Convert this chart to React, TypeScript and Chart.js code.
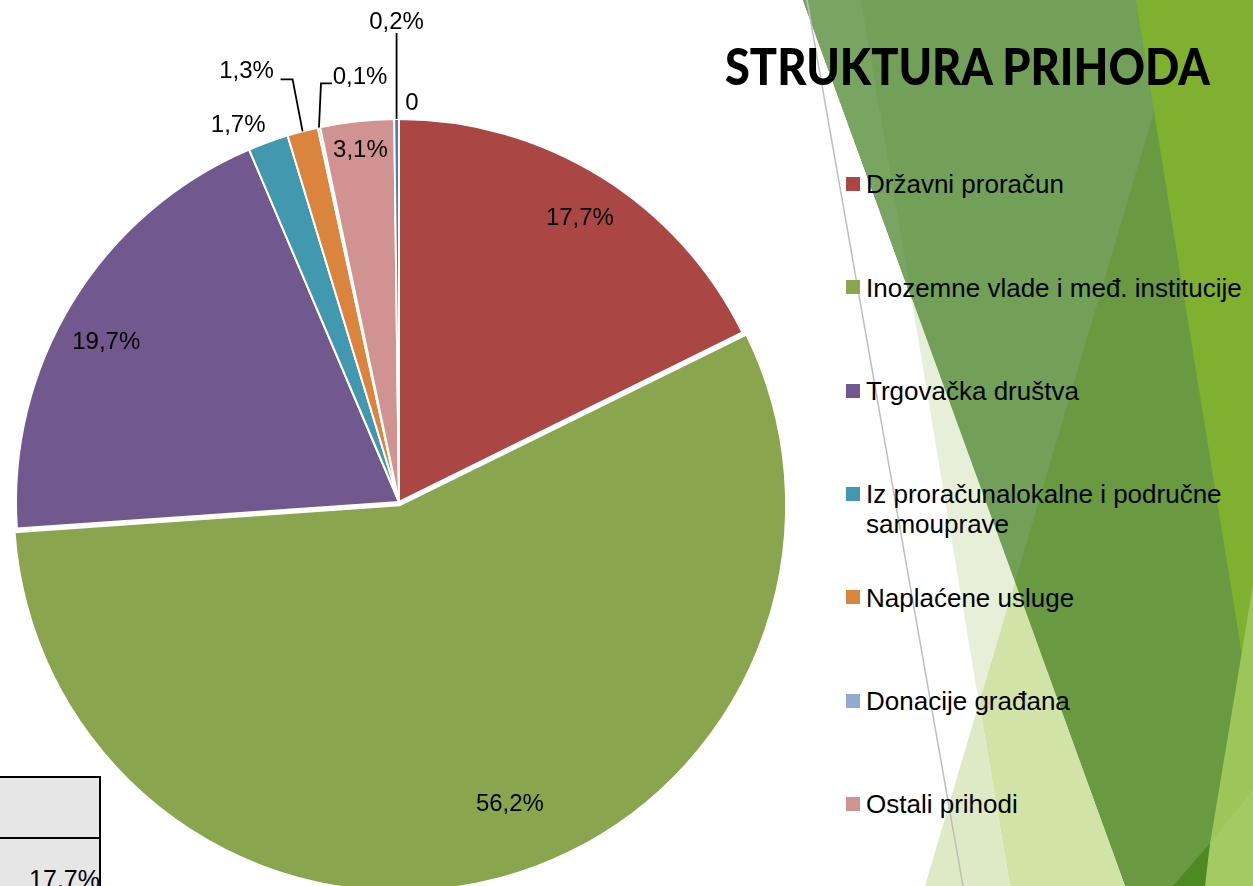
import React, { useEffect, useLayoutEffect, useRef } from "react";
import { Chart, registerables } from "chart.js";

Chart.register(...registerables);

// ---------- data ----------
const TITLE = "STRUKTURA PRIHODA";
const CATEGORIES = [
  "Državni proračun",
  "Inozemne vlade i međ. institucije",
  "Trgovačka društva",
  "Iz proračunalokalne i područne samouprave",
  "Naplaćene usluge",
  "Donacije građana",
  "Ostali prihodi",
  "Ostalo",
  "Nerazvrstano",
];
const SHARES = [17.7, 56.2, 19.7, 1.7, 1.3, 0.1, 3.1, 0.2, 0];
const COLORS = [
  "#AA4643",
  "#89A54E",
  "#71588F",
  "#4198AF",
  "#DB843D",
  "#93A9CF",
  "#D19392",
  "#4A7EBB",
  "#B9CD96",
];
const TABLE_VALUE = "17,7%";

// ---------- style / placement ----------
const EXPLODE = [0, 13, 0, 0, 0, 0, 0, 0, 0];
type Place = { inside: boolean; f?: number; dx: number; dy: number; leader?: [number, number][] };
const LABEL_PLACE: Place[] = [
  { inside: true, f: 0.88, dx: 3, dy: 2 },
  { inside: true, f: 0.85, dx: 26, dy: -13 },
  { inside: true, f: 0.875, dx: -7, dy: 14 },
  { inside: false, dx: -30, dy: -18 },
  { inside: false, dx: -56, dy: -61, leader: [[-10, -52], [-22, -52]] },
  { inside: false, dx: 41, dy: -51, leader: [[2, -44], [13, -44]] },
  { inside: true, f: 0.917, dx: 0, dy: -4 },
  { inside: false, dx: 0, dy: -98, leader: [[0, -86]] },
  { inside: false, dx: 13, dy: -17 },
];

const fmtShare = (v: number) => (v === 0 ? "0" : v.toFixed(1).replace(".", ",") + "%");

const sliceLabels = {
  id: "sliceLabels",
  afterDatasetsDraw(chart: any) {
    const ctx = chart.ctx as CanvasRenderingContext2D;
    const meta = chart.getDatasetMeta(0);
    ctx.save();
    ctx.font = "24px 'Liberation Sans', Arial, sans-serif";
    ctx.fillStyle = "#000";
    ctx.strokeStyle = "#000";
    ctx.lineWidth = 1.8;
    ctx.textAlign = "center";
    ctx.textBaseline = "middle";
    meta.data.forEach((el: any, i: number) => {
      const { x, y, startAngle, endAngle, outerRadius } = el.getProps(
        ["x", "y", "startAngle", "endAngle", "outerRadius"],
        true
      );
      const mid = (startAngle + endAngle) / 2;
      const p = LABEL_PLACE[i];
      let lx: number;
      let ly: number;
      if (p.inside) {
        lx = x + Math.cos(mid) * outerRadius * (p.f || 0.8) + p.dx;
        ly = y + Math.sin(mid) * outerRadius * (p.f || 0.8) + p.dy;
      } else {
        const ox = x + Math.cos(mid) * outerRadius;
        const oy = y + Math.sin(mid) * outerRadius;
        lx = ox + p.dx;
        ly = oy + p.dy;
        if (p.leader) {
          ctx.beginPath();
          ctx.moveTo(ox, oy);
          p.leader.forEach(([a, b]) => ctx.lineTo(ox + a, oy + b));
          ctx.stroke();
        }
      }
      ctx.fillText(fmtShare(SHARES[i]), lx, ly + 1);
    });
    ctx.restore();
  },
};

export default function App() {
  const canvasRef = useRef<HTMLCanvasElement>(null);
  const titleRef = useRef<HTMLSpanElement>(null);

  useLayoutEffect(() => {
    const t = titleRef.current;
    if (!t) return;
    t.style.transform = "none";
    const w = t.getBoundingClientRect().width;
    if (w > 0) t.style.transform = `scaleX(${485 / w})`;
  }, []);

  useEffect(() => {
    const chart = new Chart(canvasRef.current as HTMLCanvasElement, {
      type: "pie",
      data: {
        labels: CATEGORIES,
        datasets: [
          {
            data: SHARES,
            backgroundColor: COLORS,
            borderColor: "#ffffff",
            borderWidth: 2,
            offset: EXPLODE,
            radius: 383,
          } as any,
        ],
      },
      options: {
        responsive: false,
        animation: false,
        events: [],
        layout: { padding: 0 },
        plugins: {
          legend: { display: false },
          tooltip: { enabled: false },
          title: { display: false },
        },
      },
      plugins: [sliceLabels],
    });
    return () => chart.destroy();
  }, []);

  const legendItems = CATEGORIES.slice(0, 7);

  return (
    <div
      style={{
        position: "fixed",
        left: 0,
        top: 0,
        width: 1253,
        height: 886,
        overflow: "hidden",
        background: "#ffffff",
        fontFamily: "'Liberation Sans', Arial, sans-serif",
      }}
    >
      <svg
        width={1253}
        height={886}
        style={{ position: "absolute", left: 0, top: 0 }}
      >
        <polygon points="803,0 1253,0 1253,886 1125,886" fill="#699A42" />
        <polygon points="803,0 1187,0 1015,582" fill="#72A058" />
        <polygon points="803,0 861,0 911,296" fill="#79A563" />
        <polygon points="1136,0 1253,0 1253,723" fill="#80B030" />
        <polygon points="1253,585 1253,886 1203,886" fill="#9DC65A" />
        <polygon points="1253,790 1253,886 1205,886 1210,843" fill="#A4CA64" />
        <polygon points="1173,886 1210,843 1205,886" fill="#4E8A24" />
        <polygon points="911,296 1015,582 979,703" fill="#E7EFD8" />
        <polygon points="1015,582 979,703 1010,886 1125,886" fill="#D2E3A7" />
        <polygon points="979,703 925,886 1010,886" fill="#DEEAC6" />
        <line x1={807} y1={0} x2={963} y2={886} stroke="#BEBEBE" strokeWidth={1.5} />
      </svg>

      {/* background table fragment */}
      <div
        style={{
          position: "absolute",
          left: -5,
          top: 838,
          width: 104,
          height: 60,
          borderRight: "2px solid #000",
          background: "#E6E6E6",
        }}
      />
      <div
        style={{
          position: "absolute",
          left: -5,
          top: 776,
          width: 102,
          height: 59,
          border: "2px solid #000",
          background: "#E6E6E6",
        }}
      />
      <div
        style={{
          position: "absolute",
          left: 0,
          top: 864,
          width: 100,
          textAlign: "right",
          fontSize: 25,
          lineHeight: "30px",
          color: "#000",
        }}
      >
        {TABLE_VALUE}
      </div>

      <canvas
        ref={canvasRef}
        width={798}
        height={1004}
        style={{ position: "absolute", left: 0, top: 0, width: 798, height: 1004 }}
      />

      <div
        style={{
          position: "absolute",
          left: 725,
          top: 39,
          whiteSpace: "nowrap",
          fontFamily: "Lato, 'Open Sans', sans-serif",
          fontWeight: 900,
          fontSize: 52,
          lineHeight: "52px",
          color: "#000",
        }}
      >
        <span ref={titleRef} style={{ display: "inline-block", transformOrigin: "0 0" }}>
          {TITLE}
        </span>
      </div>

      {legendItems.map((name, i) => {
        const center = 184 + i * 103.3;
        return (
          <div key={name}>
            <div
              style={{
                position: "absolute",
                left: 846,
                top: center - 7,
                width: 14,
                height: 14,
                background: COLORS[i],
              }}
            />
            <div
              style={{
                position: "absolute",
                left: 866,
                top: center - 14.7,
                width: 387,
                fontSize: 26,
                lineHeight: "30px",
                color: "#000",
              }}
            >
              {name}
            </div>
          </div>
        );
      })}
    </div>
  );
}
